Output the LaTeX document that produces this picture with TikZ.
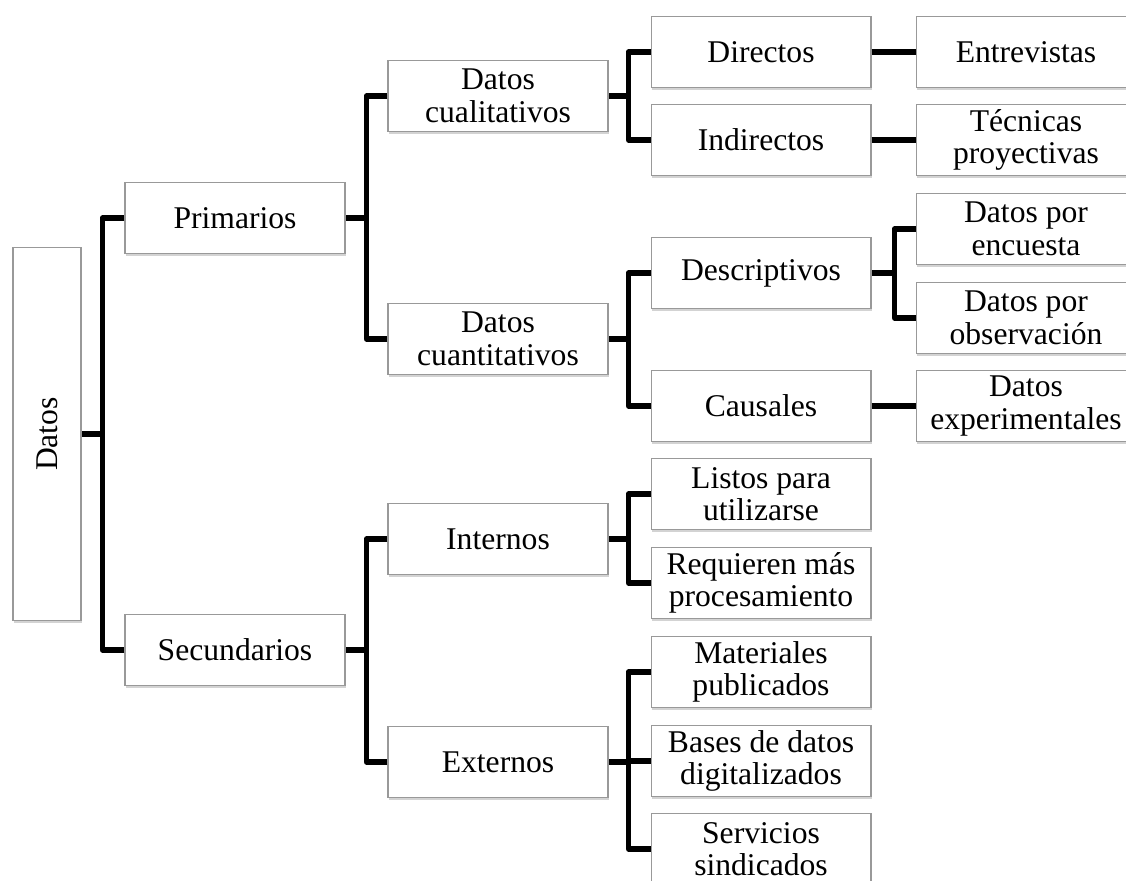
\documentclass[tikz,border=0pt]{standalone}
\usepackage{fontspec}
\setmainfont{Liberation Serif}
\usetikzlibrary{shadows}

\begin{document}
\begin{tikzpicture}[x=0.02cm, y=-0.02cm,
    caja/.style={draw=gray!80, line width=0.6pt, fill=white, minimum width=4.4cm,
        minimum height=1.42cm, inner sep=0pt, align=center,
        font=\fontsize{18}{18.5}\selectfont,
        drop shadow={shadow xshift=0.6pt, shadow yshift=-1.2pt, opacity=0.35, fill=gray}},
    linea/.style={line width=3.1pt, line join=round}]

    % Marco de la figura (recorte a la derecha y abajo)
    \useasboundingbox (0,0) rectangle (1126,881);
    \clip (0,0) rectangle (1126,881);

    % Caja raíz (texto vertical)
    \node[caja, minimum width=1.36cm, minimum height=7.48cm] (datos) at (47,434) {\rotatebox{90}{Datos}};

    % Primer nivel
    \node[caja] (prim) at (235,218) {Primarios};
    \node[caja] (secu) at (235,650) {Secundarios};

    % Segundo nivel
    \node[caja] (cual) at (498,96) {Datos\\cualitativos};
    \node[caja] (cuan) at (498,339) {Datos\\cuantitativos};
    \node[caja] (inte) at (498,539) {Internos};
    \node[caja] (exte) at (498,762) {Externos};

    % Tercer nivel
    \node[caja] (dire) at (761,52) {Directos};
    \node[caja] (indi) at (761,140) {Indirectos};
    \node[caja] (desc) at (761,273) {Descriptivos};
    \node[caja] (caus) at (761,406) {Causales};
    \node[caja] (list) at (761,494) {Listos para\\utilizarse};
    \node[caja] (requ) at (761,583) {Requieren más\\procesamiento};
    \node[caja] (mate) at (761,672) {Materiales\\publicados};
    \node[caja] (base) at (761,761) {Bases de datos\\digitalizados};
    \node[caja] (serv) at (761,849) {Servicios\\sindicados};

    % Cuarto nivel
    \node[caja] (entr) at (1026,52) {Entrevistas};
    \node[caja] (tecn) at (1026,140) {Técnicas\\proyectivas};
    \node[caja] (encu) at (1026,229) {Datos por\\encuesta};
    \node[caja] (obse) at (1026,318) {Datos por\\observación};
    \node[caja] (expe) at (1026,406) {Datos\\experimentales};

    % Conectores en escuadra
    \draw[linea] (prim.west) -- ++(-22,0) |- (datos.east);
    \draw[linea] (secu.west) -- ++(-22,0) |- (datos.east);

    \draw[linea] (cual.west) -- ++(-21,0) |- (prim.east);
    \draw[linea] (cuan.west) -- ++(-21,0) |- (prim.east);
    \draw[linea] (inte.west) -- ++(-21,0) |- (secu.east);
    \draw[linea] (exte.west) -- ++(-21,0) |- (secu.east);

    \draw[linea] (dire.west) -- ++(-22,0) |- (cual.east);
    \draw[linea] (indi.west) -- ++(-22,0) |- (cual.east);
    \draw[linea] (desc.west) -- ++(-22,0) |- (cuan.east);
    \draw[linea] (caus.west) -- ++(-22,0) |- (cuan.east);
    \draw[linea] (list.west) -- ++(-22,0) |- (inte.east);
    \draw[linea] (requ.west) -- ++(-22,0) |- (inte.east);
    \draw[linea] (mate.west) -- ++(-22,0) |- (exte.east);
    \draw[linea] (base.west) -- ++(-22,0) |- (exte.east);
    \draw[linea] (serv.west) -- ++(-22,0) |- (exte.east);

    \draw[linea] (encu.west) -- ++(-21,0) |- (desc.east);
    \draw[linea] (obse.west) -- ++(-21,0) |- (desc.east);

    % Conectores rectos
    \draw[linea] (dire.east) -- (entr.west);
    \draw[linea] (indi.east) -- (tecn.west);
    \draw[linea] (caus.east) -- (expe.west);

\end{tikzpicture}
\end{document}
